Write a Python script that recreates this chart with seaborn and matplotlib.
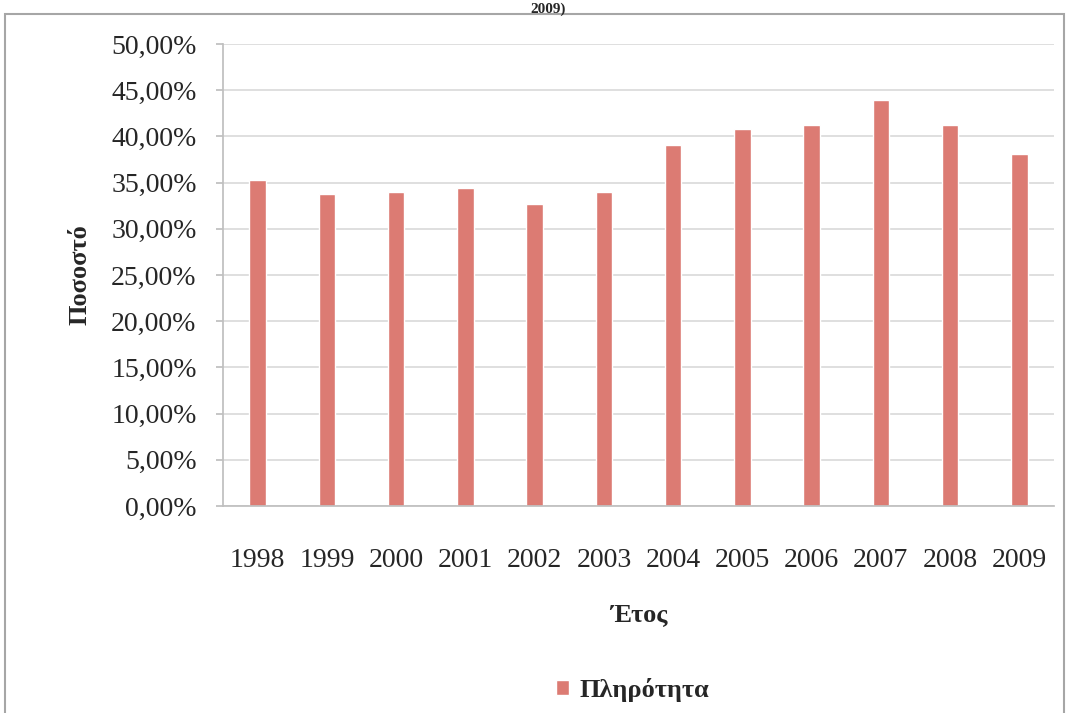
import numpy as np
import pandas as pd
import matplotlib
matplotlib.use("Agg")
import matplotlib.pyplot as plt
import seaborn as sns
from matplotlib.patches import Rectangle
from matplotlib.ticker import FuncFormatter, MultipleLocator


# -------------------------
# Data
# -------------------------
years = ["1998", "1999", "2000", "2001", "2002", "2003",
         "2004", "2005", "2006", "2007", "2008", "2009"]
occupancy = [35.3, 33.8, 33.95, 34.4, 32.7, 33.95,
             39.1, 40.8, 41.2, 43.9, 41.2, 38.1]
series_name = "Πληρότητα"

bar_color = "#DC7B73"


# -------------------------
# Plot
# -------------------------
sns.set_theme(style="white")
plt.rcParams["font.family"] = ["Liberation Serif", "DejaVu Serif"]

df = pd.DataFrame({"year": years, "value": occupancy})

fig = plt.figure(figsize=(10.69, 7.13), dpi=100)
ax = fig.add_axes([223 / 1069, 1 - 506 / 713, 831 / 1069, 462 / 713])

sns.barplot(
    data=df,
    x="year",
    y="value",
    color=bar_color,
    width=0.24,
    saturation=1,
    label=series_name,
    ax=ax,
)
if ax.get_legend() is not None:
    ax.get_legend().remove()

ax.set_ylim(0, 50)
ax.yaxis.set_major_locator(MultipleLocator(5))
ax.yaxis.set_major_formatter(FuncFormatter(lambda v, p: f"{v:.2f}%".replace(".", ",")))
ax.grid(axis="y", color="#D9D9D9", linewidth=1.2)
ax.set_axisbelow(True)

for side in ["top", "right"]:
    ax.spines[side].set_visible(False)
ax.spines["left"].set_color("#BFBFBF")
ax.spines["bottom"].set_color("#BFBFBF")

ax.tick_params(axis="y", left=True, length=5, color="#BFBFBF", pad=14,
               labelsize=20, labelcolor="#262626")
ax.tick_params(axis="x", bottom=False, pad=24, labelsize=20, labelcolor="#262626")

ax.set_xlabel("Έτος", fontsize=19, fontweight="bold", labelpad=22)
ax.set_ylabel("Ποσοστό", fontsize=19, fontweight="bold", labelpad=14)

handles, labels = ax.get_legend_handles_labels()
fig.legend(
    handles[:1], labels[:1],
    loc="center",
    bbox_to_anchor=(0.592, 0.032),
    frameon=False,
    prop={"weight": "bold", "size": 19},
    handlelength=0.5,
    handleheight=0.5,
    handletextpad=0.4,
)

# chart frame and title fragment above it
fig.patches.append(Rectangle((5 / 1069, -0.02), 1059 / 1069, 1 - 14 / 713 + 0.02,
                             transform=fig.transFigure, fill=False,
                             edgecolor="#A6A6A6", linewidth=1.5))
fig.text(0.513, 1 - 9 / 713, "2009)", ha="center", va="center",
         fontsize=11, fontweight="bold")

fig.savefig("out.png", dpi=100)
plt.close()
